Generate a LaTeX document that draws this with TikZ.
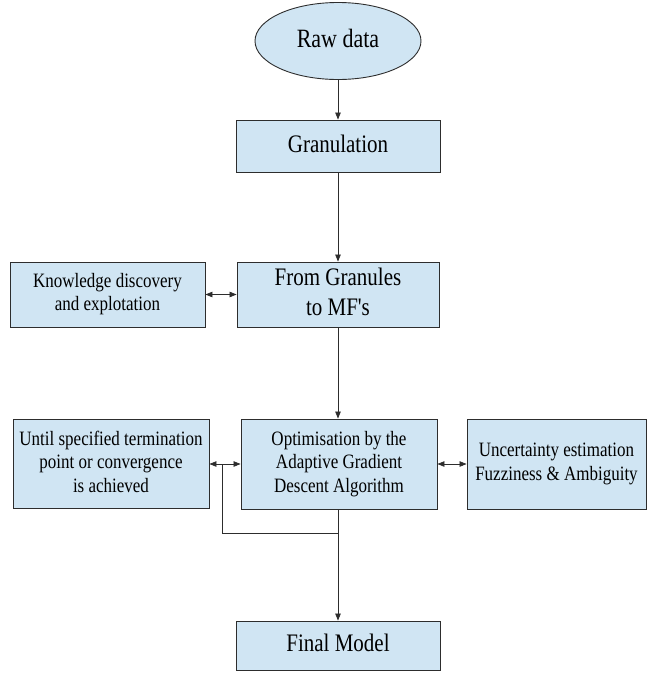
\documentclass[tikz,border=0pt]{standalone}
\usepackage{fontspec}
\setmainfont{Liberation Serif}
\usepackage{graphicx}
\usetikzlibrary{shapes.geometric,arrows.meta}
\definecolor{boxfill}{RGB}{208,229,243}
\definecolor{boxline}{RGB}{45,45,45}
% labels are set a little taller than wide
\newcommand\tall[1]{\scalebox{1}[1.2]{\begin{tabular}{@{}c@{}}#1\end{tabular}}}
\begin{document}
\begin{tikzpicture}[x=1pt,y=-1pt,
  >={Triangle[length=7pt,width=5.5pt]},
  box/.style = {shape=rectangle, draw=boxline, fill=boxfill, line width=0.9pt, align=center, inner sep=0pt},
  big/.style = {box, font=\fontsize{21}{25}\selectfont},
  small/.style = {box, font=\fontsize{17}{19.5}\selectfont},
  flow/.style = {draw=boxline, line width=0.7pt}]
\useasboundingbox (0,0) rectangle (647,675);

\node[ellipse, draw=boxline, fill=boxfill, line width=0.9pt, minimum width=166pt, minimum height=77pt, inner sep=0pt,
      font=\fontsize{22}{26}\selectfont] (raw) at (338,41) {\tall{Raw data}};
\node[big, minimum width=204pt, minimum height=52pt] (gran) at (338,146) {\tall{Granulation}};
\node[big, minimum width=202pt, minimum height=65pt] (mfs) at (338,294.5) {\tall{From Granules\\to MF\textquotesingle s}};
\node[small, minimum width=195pt, minimum height=65pt] (know) at (107.5,294.5) {\tall{Knowledge discovery\\and explotation}};
\node[small, minimum width=196pt, minimum height=90pt] (opt) at (339,464) {\tall{Optimisation by the\\Adaptive Gradient\\Descent Algorithm}};
\node[small, minimum width=196pt, minimum height=89pt] (until) at (111,464) {\tall{Until specified termination\\point or convergence\\is achieved}};
\node[small, minimum width=179pt, minimum height=90pt] (unc) at (556.5,464) {\tall{Uncertainty estimation\\Fuzziness \& Ambiguity}};
\node[big, minimum width=204pt, minimum height=49pt] (final) at (338,645.5) {\tall{Final Model}};

% main flow
\draw[flow,->] (raw) -- (gran);
\draw[flow,->] (gran) -- (mfs);
\draw[flow,->] (mfs.south) -- (opt.north -| mfs.south);
\draw[flow,->] (opt.south -| final.north) -- (final.north);

% side links
\draw[flow,<->] (know.east) -- (mfs.west);
\draw[flow,<->] (until.east) -- (opt.west);
\draw[flow,<->] (opt.east) -- (unc.west);

% loop back to the stopping test
\coordinate (fb) at (222,533);
\draw[flow] (fb |- until.east) -- (fb) -- (fb -| final.north);
\end{tikzpicture}
\end{document}
